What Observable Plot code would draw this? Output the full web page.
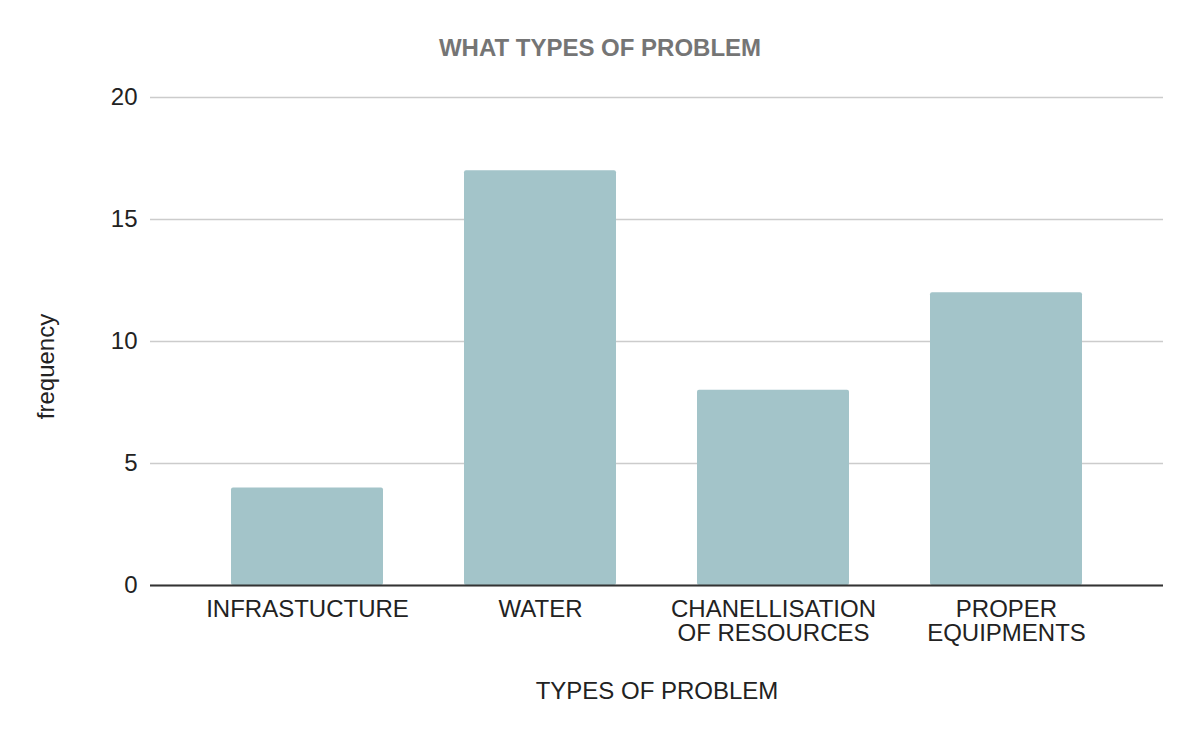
<!DOCTYPE html>
<html>
<head>
<meta charset="utf-8">
<script src="https://cdn.jsdelivr.net/npm/d3@7"></script>
<script src="https://cdn.jsdelivr.net/npm/@observablehq/plot@0.6"></script>
<style>
  html, body { margin: 0; padding: 0; background: #fff; }
</style>
</head>
<body>
<div id="chart"></div>
<script>
const categories = ["INFRASTUCTURE", "WATER", "CHANELLISATION\nOF RESOURCES", "PROPER\nEQUIPMENTS"];
const frequency = [4, 17, 8, 12];
const yTicks = [0, 5, 10, 15, 20];
const titleText = "WHAT TYPES OF PROBLEM";
const xLabel = "TYPES OF PROBLEM";
const yLabel = "frequency";

const data = categories.map((c, i) => ({category: c, value: frequency[i]}));

const chart = Plot.plot({
  width: 1200,
  height: 742,
  marginTop: 97,
  marginBottom: 157,
  marginLeft: 150,
  marginRight: 37,
  style: {fontFamily: "'Liberation Sans', Arial, sans-serif", fontSize: "24px", background: "#fff"},
  x: {domain: categories, padding: 0.3476, label: null},
  y: {domain: [0, 20], label: null},
  marks: [
    Plot.gridY(yTicks, {stroke: "#cccccc", strokeOpacity: 1, strokeWidth: 1.5}),
    Plot.barY(data, {x: "category", y: "value", fill: "#a3c4c9", rx: 2}),
    Plot.ruleY([0], {stroke: "#333333", strokeWidth: 2}),
    Plot.axisY(yTicks, {tickSize: 0, tickPadding: 13, fontSize: 24, fill: "#222", label: null}),
    Plot.axisX({tickSize: 0, tickPadding: 14, fontSize: 24, lineHeight: 1.0, fill: "#222", label: null}),
    Plot.text([titleText], {frameAnchor: "top", dx: -57, dy: -59, fontSize: 24, fontWeight: "bold", fill: "#757575"}),
    Plot.text([xLabel], {frameAnchor: "bottom", dy: 113, fontSize: 24, fill: "#222"}),
    Plot.text([yLabel], {frameAnchor: "left", textAnchor: "middle", dx: -104, dy: 25, rotate: -90, fontSize: 24, fill: "#222"})
  ]
});
document.getElementById("chart").appendChild(chart);
</script>
</body>
</html>
